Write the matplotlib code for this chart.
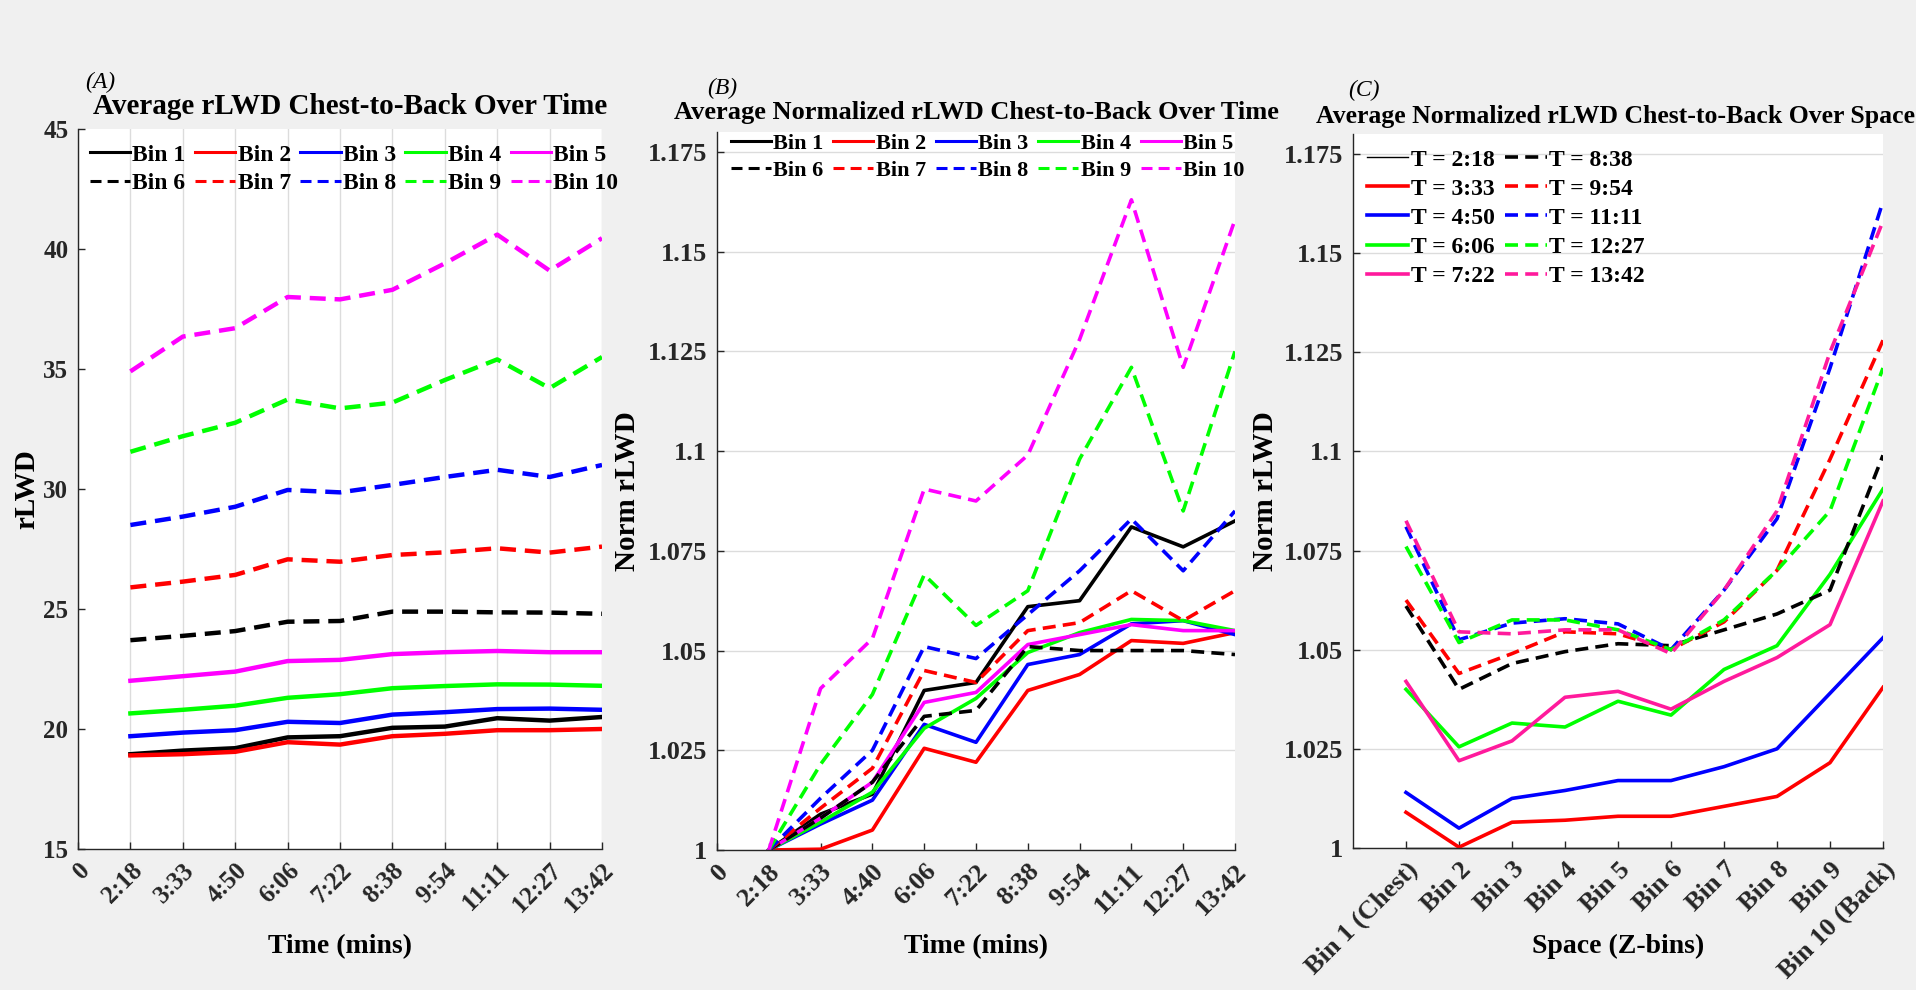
import numpy as np
import matplotlib
matplotlib.use("Agg")
import matplotlib.pyplot as plt
from matplotlib.ticker import FormatStrFormatter

plt.rcParams['font.family'] = ['Liberation Serif', 'DejaVu Serif']
plt.rcParams['font.weight'] = 'bold'

# ---- data ----
time_labels_a = ['0', '2:18', '3:33', '4:50', '6:06', '7:22', '8:38', '9:54', '11:11', '12:27', '13:42']
time_labels_b = ['0', '2:18', '3:33', '4:40', '6:06', '7:22', '8:38', '9:54', '11:11', '12:27', '13:42']
legend_times = ['2:18', '3:33', '4:50', '6:06', '7:22', '8:38', '9:54', '11:11', '12:27', '13:42']
bin_names = ['Bin %d' % i for i in range(1, 11)]
space_labels = ['Bin 1 (Chest)', 'Bin 2', 'Bin 3', 'Bin 4', 'Bin 5',
                'Bin 6', 'Bin 7', 'Bin 8', 'Bin 9', 'Bin 10 (Back)']

# average rLWD per bin (rows) at each time point (columns)
rlwd = np.array([
    [18.95, 19.10, 19.20, 19.65, 19.70, 20.05, 20.10, 20.45, 20.35, 20.50],
    [18.90, 18.95, 19.05, 19.45, 19.35, 19.70, 19.80, 19.95, 19.95, 20.00],
    [19.70, 19.85, 19.95, 20.30, 20.25, 20.60, 20.70, 20.83, 20.85, 20.80],
    [20.65, 20.80, 20.97, 21.30, 21.45, 21.70, 21.79, 21.86, 21.85, 21.80],
    [22.01, 22.20, 22.39, 22.83, 22.88, 23.12, 23.20, 23.25, 23.20, 23.20],
    [23.70, 23.88, 24.08, 24.47, 24.50, 24.89, 24.89, 24.86, 24.85, 24.80],
    [25.90, 26.14, 26.42, 27.07, 26.97, 27.25, 27.36, 27.53, 27.35, 27.60],
    [28.50, 28.85, 29.26, 29.96, 29.86, 30.17, 30.50, 30.80, 30.50, 31.00],
    [31.55, 32.20, 32.76, 33.73, 33.36, 33.60, 34.54, 35.40, 34.20, 35.50],
    [34.90, 36.35, 36.70, 38.00, 37.90, 38.30, 39.40, 40.60, 39.10, 40.45],
])

# normalized rLWD per bin (rows) at each time point (columns)
norm_rlwd = np.array([
    [1.0, 1.0090, 1.0140, 1.0400, 1.0420, 1.0610, 1.0625, 1.0810, 1.0760, 1.0825],
    [1.0, 1.0002, 1.0050, 1.0255, 1.0220, 1.0400, 1.0440, 1.0525, 1.0518, 1.0545],
    [1.0, 1.0065, 1.0125, 1.0315, 1.0270, 1.0465, 1.0490, 1.0567, 1.0575, 1.0540],
    [1.0, 1.0070, 1.0145, 1.0305, 1.0380, 1.0495, 1.0545, 1.0578, 1.0575, 1.0550],
    [1.0, 1.0080, 1.0170, 1.0370, 1.0395, 1.0515, 1.0540, 1.0565, 1.0550, 1.0550],
    [1.0, 1.0080, 1.0170, 1.0335, 1.0350, 1.0510, 1.0500, 1.0500, 1.0500, 1.0490],
    [1.0, 1.0105, 1.0205, 1.0450, 1.0420, 1.0550, 1.0570, 1.0650, 1.0575, 1.0650],
    [1.0, 1.0130, 1.0250, 1.0510, 1.0480, 1.0590, 1.0700, 1.0830, 1.0700, 1.0850],
    [1.0, 1.0215, 1.0390, 1.0690, 1.0563, 1.0650, 1.0980, 1.1210, 1.0850, 1.1250],
    [1.0, 1.0405, 1.0530, 1.0905, 1.0875, 1.0990, 1.1280, 1.1630, 1.1210, 1.1580],
])

bin_colors = ['#000000', '#ff0000', '#0000ff', '#00ff00', '#ff00ff'] * 2
time_colors = ['#000000', '#ff0000', '#0000ff', '#00ff00', '#ff1a9c'] * 2
styles = ['-'] * 5 + ['--'] * 5

W, H = 1916, 990
fig = plt.figure(figsize=(W / 100, H / 100), dpi=100, facecolor='#f0f0f0')

def px_axes(left, top, right, bottom):
    return fig.add_axes([left / W, 1 - bottom / H, (right - left) / W, (bottom - top) / H])

def style_axes(ax, labelsize=19):
    ax.set_facecolor('white')
    for s in ['top', 'right']:
        ax.spines[s].set_visible(False)
    for s in ['left', 'bottom']:
        ax.spines[s].set_color('#262626')
        ax.spines[s].set_linewidth(1.0)
    ax.tick_params(direction='in', length=5, width=1, colors='#262626',
                   labelsize=labelsize, pad=7)
    for lab in ax.get_xticklabels() + ax.get_yticklabels():
        lab.set_fontweight('bold')

def row_major(handles, ncol):
    # matplotlib fills legend columns first; reorder so rows read left to right
    nrow = int(np.ceil(len(handles) / ncol))
    return [handles[r * ncol + c] for c in range(ncol) for r in range(nrow)]

x_time = np.arange(1, 11)
x_space = np.arange(1, 11)
dash = (3.6, 2.0)

# ---------- (A) ----------
axA = px_axes(78, 129, 602, 849)
linesA = []
for i in range(10):
    ln, = axA.plot(x_time, rlwd[i], color=bin_colors[i], lw=3.2, ls=styles[i], label=bin_names[i])
    if styles[i] == '--':
        ln.set_dashes(dash)
    linesA.append(ln)
axA.set_xlim(0, 10)
axA.set_ylim(15, 45)
axA.set_xticks(np.arange(0, 11))
axA.set_xticklabels(time_labels_a, rotation=45, ha='right', rotation_mode='anchor')
axA.set_yticks(np.arange(15, 46, 5))
axA.grid(axis='x', color='#dcdcdc', lw=1)
axA.set_axisbelow(True)
style_axes(axA, labelsize=18)
axA.set_xlabel('Time (mins)', fontsize=20, fontweight='bold')
axA.set_ylabel('rLWD', fontsize=21, fontweight='bold')
axA.xaxis.set_label_coords(0.5, -0.136)
axA.xaxis.label.set_va('center')
axA.yaxis.set_label_coords(-0.098, 0.5)
axA.yaxis.label.set_va('center')
legA = axA.legend(handles=row_major(linesA, 5), ncol=5, loc='upper left',
                  bbox_to_anchor=(90 / W, 1 - 144 / H), bbox_transform=fig.transFigure,
                  frameon=False, fontsize=17, handlelength=1.7, handletextpad=0.1,
                  columnspacing=0.4, labelspacing=0.3, borderpad=0, borderaxespad=0)
for ln in legA.get_lines():
    ln.set_linewidth(2.2)

# ---------- (B) ----------
axB = px_axes(717, 132, 1235, 850)
linesB = []
for i in range(10):
    ln, = axB.plot(x_time, norm_rlwd[i], color=bin_colors[i], lw=2.6, ls=styles[i], label=bin_names[i])
    if styles[i] == '--':
        ln.set_dashes(dash)
    linesB.append(ln)
axB.set_xlim(0, 10)
axB.set_ylim(1.0, 1.18)
axB.set_xticks(np.arange(0, 11))
axB.set_xticklabels(time_labels_b, rotation=45, ha='right', rotation_mode='anchor')
axB.set_yticks(np.arange(1.0, 1.176, 0.025))
axB.yaxis.set_major_formatter(FormatStrFormatter('%g'))
axB.grid(axis='y', color='#dcdcdc', lw=1)
axB.set_axisbelow(True)
style_axes(axB)
axB.set_xlabel('Time (mins)', fontsize=20, fontweight='bold')
axB.set_ylabel('Norm rLWD', fontsize=21, fontweight='bold')
axB.xaxis.set_label_coords(0.5, -0.135)
axB.xaxis.label.set_va('center')
axB.yaxis.set_label_coords(-0.172, 0.5)
axB.yaxis.label.set_va('center')
legB = axB.legend(handles=row_major(linesB, 5), ncol=5, loc='upper left',
                  bbox_to_anchor=(731 / W, 1 - 133 / H), bbox_transform=fig.transFigure,
                  frameon=False, fontsize=16, handlelength=1.8, handletextpad=0.1,
                  columnspacing=0.45, labelspacing=0.3, borderpad=0, borderaxespad=0)
for ln in legB.get_lines():
    ln.set_linewidth(2.2)

# ---------- (C) ----------
axC = px_axes(1353, 134, 1883, 848)
linesC = []
for j in range(10):
    lw = 1.0 if j == 0 else 2.6
    ln, = axC.plot(x_space, norm_rlwd[:, j], color=time_colors[j], lw=lw, ls=styles[j],
                   label='T = ' + legend_times[j], clip_on=(j != 0))
    if styles[j] == '--':
        ln.set_dashes(dash)
    linesC.append(ln)
axC.set_xlim(0, 10)
axC.set_ylim(1.0, 1.18)
axC.set_xticks(x_space)
axC.set_xticklabels(space_labels, rotation=45, ha='right', rotation_mode='anchor')
axC.set_yticks(np.arange(1.0, 1.176, 0.025))
axC.yaxis.set_major_formatter(FormatStrFormatter('%g'))
axC.grid(axis='y', color='#dcdcdc', lw=1)
axC.set_axisbelow(True)
style_axes(axC)
axC.set_xlabel('Space (Z-bins)', fontsize=20, fontweight='bold')
axC.set_ylabel('Norm rLWD', fontsize=21, fontweight='bold')
axC.xaxis.set_label_coords(0.5, -0.138)
axC.xaxis.label.set_va('center')
axC.yaxis.set_label_coords(-0.165, 0.5)
axC.yaxis.label.set_va('center')
legC = axC.legend(handles=linesC, ncol=2, loc='upper left',
                  bbox_to_anchor=(1367 / W, 1 - 149 / H), bbox_transform=fig.transFigure,
                  frameon=False, fontsize=17, handlelength=1.75, handletextpad=0.1,
                  columnspacing=0.45, labelspacing=0.32, borderpad=0, borderaxespad=0)

# ---------- titles ----------
fig.text(85 / W, 1 - 82 / H, '(A)', fontsize=17, fontstyle='italic', fontweight='normal', va='center')
fig.text(350 / W, 1 - 107 / H, 'Average rLWD Chest-to-Back Over Time', fontsize=21,
         fontweight='bold', ha='center', va='center')
fig.text(707 / W, 1 - 88 / H, '(B)', fontsize=17, fontstyle='italic', fontweight='normal', va='center')
fig.text(976 / W, 1 - 113 / H, 'Average Normalized rLWD Chest-to-Back Over Time', fontsize=19,
         fontweight='bold', ha='center', va='center')
fig.text(1348 / W, 1 - 90 / H, '(C)', fontsize=17, fontstyle='italic', fontweight='normal', va='center')
fig.text(1616 / W, 1 - 117 / H, 'Average Normalized rLWD Chest-to-Back Over Space', fontsize=18.5,
         fontweight='bold', ha='center', va='center')

fig.savefig('out.png', dpi=100, facecolor=fig.get_facecolor())
